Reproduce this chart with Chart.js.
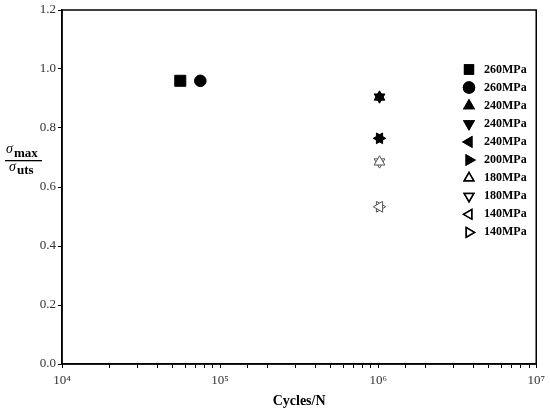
<!DOCTYPE html>
<html>
<head>
<meta charset="utf-8">
<script src="https://cdn.jsdelivr.net/npm/chart.js@4/dist/chart.umd.min.js"></script>
<style>
  body { margin: 0; background: #fff; }
  canvas { display: block; }
</style>
</head>
<body>
<canvas id="fatigueChart" width="550" height="415"></canvas>
<script>
// series labels
const stressLabels = ['260MPa', '260MPa', '240MPa', '240MPa', '240MPa', '200MPa', '180MPa', '180MPa', '140MPa', '140MPa'];
// cycles to failure (x) and normalised max stress (y)
const cycles = [56000, 75000, 1020000, 1020000, 1020000, 1020000, 1020000, 1020000, 1020000, 1020000];
const stressRatio = [0.96, 0.96, 0.905, 0.905, 0.765, 0.765, 0.685, 0.685, 0.533, 0.533];
const yTicks = [0, 0.2, 0.4, 0.6, 0.8, 1.0, 1.2];
const xDecades = [1e4, 1e5, 1e6, 1e7];

// marker look per series
const shapes = ['rect', 'circle', 'triangle', 'triangle', 'triangle', 'triangle', 'triangle', 'triangle', 'triangle', 'triangle'];
const rotations = [0, 0, 0, 180, 270, 90, 0, 180, 270, 90];
const hollow = [false, false, false, false, false, false, true, true, true, true];

const sup = { '4': '\u2074', '5': '\u2075', '6': '\u2076', '7': '\u2077' };
const serif = '"Liberation Serif", "Times New Roman", serif';

const datasets = stressLabels.map((label, i) => ({
    label: label,
    data: [{ x: cycles[i], y: stressRatio[i] }],
    pointStyle: shapes[i],
    pointRotation: rotations[i],
    pointRadius: shapes[i] === 'rect' ? 7.8 : (shapes[i] === 'circle' ? 5.8 : 6.2),
    backgroundColor: hollow[i] ? '#fff' : '#000',
    borderColor: hollow[i] ? '#555' : '#000',
    borderWidth: 1,
    showLine: false
}));

// frame, y title and the in-plot legend
const decorations = {
    id: 'decorations',
    afterDraw(chart) {
        const ctx = chart.ctx;
        const area = chart.chartArea;
        ctx.save();
        ctx.strokeStyle = '#000';
        ctx.lineWidth = 1.5;
        ctx.strokeRect(area.left, area.top, area.right - area.left, area.bottom - area.top);

        // y axis title as a fraction
        ctx.fillStyle = '#000';
        ctx.textBaseline = 'alphabetic';
        ctx.font = 'italic 14px ' + serif;
        ctx.fillText('\u03c3', 6, 153);
        ctx.font = 'bold 13px ' + serif;
        ctx.fillText('max', 14, 157);
        ctx.fillRect(5, 160, 37, 1.3);
        ctx.font = 'italic 14px ' + serif;
        ctx.fillText('\u03c3', 9, 171);
        ctx.font = 'bold 13px ' + serif;
        ctx.fillText('uts', 17, 174);

        // legend
        chart.data.datasets.forEach((ds, i) => {
            const y = 69.5 + i * 18.1;
            Chart.helpers.drawPoint(ctx, {
                pointStyle: ds.pointStyle,
                rotation: ds.pointRotation,
                radius: ds.pointStyle === 'rect' ? 6.2 : 5.5,
                borderWidth: 1.5
            }, 469, y);
            ctx.fillStyle = hollow[i] ? '#fff' : '#000';
            ctx.strokeStyle = '#000';
            ctx.lineWidth = 1.5;
            ctx.fill();
            ctx.stroke();
            ctx.fillStyle = '#000';
            ctx.font = 'bold 12px ' + serif;
            ctx.textBaseline = 'middle';
            ctx.textAlign = 'left';
            ctx.fillText(ds.label, 484, y);
        });
        ctx.restore();
    }
};

const chart = new Chart(document.getElementById('fatigueChart'), {
    type: 'scatter',
    data: { datasets },
    plugins: [decorations],
    options: {
        responsive: false,
        animation: false,
        layout: { padding: { top: 10, right: 13, left: 0, bottom: 0 } },
        plugins: {
            legend: { display: false },
            tooltip: { enabled: false }
        },
        scales: {
            x: {
                type: 'logarithmic',
                min: 1e4,
                max: 1e7,
                afterFit: (scale) => { scale.height = 51; },
                border: { color: '#000', width: 1.5 },
                grid: { drawOnChartArea: false, color: '#000', tickLength: 4, lineWidth: 1 },
                ticks: {
                    autoSkip: false,
                    maxRotation: 0,
                    padding: 5,
                    color: '#333',
                    font: { family: serif, size: 13 },
                    callback: (value) => {
                        const i = xDecades.indexOf(value);
                        if (i < 0) return '';
                        const exp = String(Math.round(Math.log10(value)));
                        return '10' + sup[exp];
                    }
                },
                title: {
                    display: true,
                    text: 'Cycles/N',
                    color: '#000',
                    font: { family: serif, size: 14, weight: 'bold' },
                    padding: { top: 0, bottom: 5 }
                }
            },
            y: {
                min: 0,
                max: 1.2,
                afterFit: (scale) => { scale.width = 62; },
                afterBuildTicks: (scale) => { scale.ticks = yTicks.map(v => ({ value: v })); },
                border: { color: '#000', width: 1.5 },
                grid: { drawOnChartArea: false, color: '#000', tickLength: 4 },
                ticks: {
                    padding: 2,
                    color: '#333',
                    font: { family: serif, size: 13 },
                    callback: (value) => value.toFixed(1)
                }
            }
        }
    }
});
</script>
</body>
</html>
